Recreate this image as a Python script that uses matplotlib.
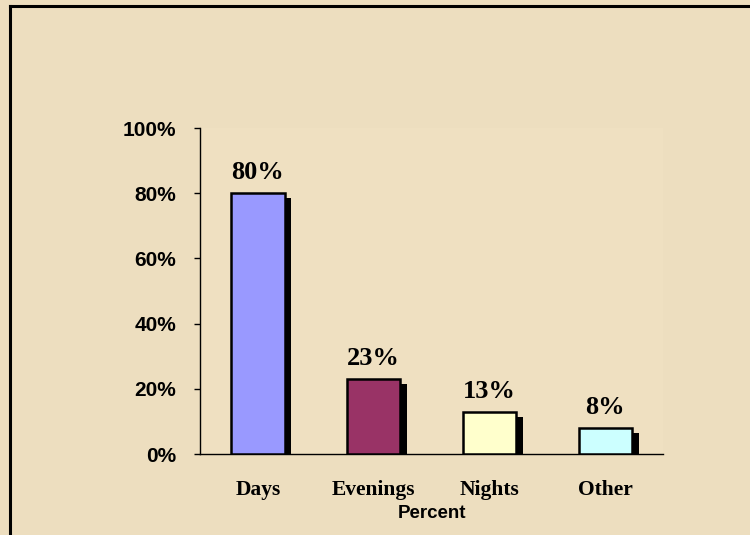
import numpy as np
import matplotlib
matplotlib.use("Agg")
import matplotlib.pyplot as plt
import matplotlib.patheffects as pe
from matplotlib.lines import Line2D

# data
categories = ["Days", "Evenings", "Nights", "Other"]
percent = [80, 23, 13, 8]
bar_colors = ["#9999FF", "#993366", "#FFFFCC", "#CCFFFF"]
yticks = [0, 20, 40, 60, 80, 100]

bg = "#EDDEBF"

fig = plt.figure(figsize=(7.5, 5.35), dpi=100, facecolor=bg)
ax = fig.add_axes([0.2667, 0.1514, 0.6173, 0.6093])
ax.set_facecolor("#EFE0C1")

x = np.arange(len(categories))
shadow = [pe.SimplePatchShadow(offset=(5, -3.6), shadow_rgbFace="black", alpha=1.0), pe.Normal()]
bars = ax.bar(x, percent, width=0.46, color=bar_colors, edgecolor="black",
              linewidth=1.8, zorder=3)
for b in bars:
    b.set_path_effects(shadow)

# value labels above bars
for xi, v in zip(x, percent):
    ax.annotate(f"{v}%", (xi, v), xytext=(0, 10), textcoords="offset points",
                ha="center", va="baseline", fontsize=19, fontweight="bold",
                family="Liberation Serif")

ax.set_xlim(-0.5, len(categories) - 0.5)
ax.set_ylim(0, 100)
ax.set_yticks(yticks)
ax.set_yticklabels([f"{t}%" for t in yticks], fontsize=15, fontweight="bold",
                   family="Liberation Sans")
ax.set_xticks(x)
ax.set_xticklabels(categories, fontsize=15.5, fontweight="bold", family="Liberation Serif")
ax.tick_params(axis="x", length=0, pad=18.5)
ax.tick_params(axis="y", length=4, width=1, direction="out", pad=13)
ax.set_xlabel("Percent", fontsize=13.5, fontweight="bold", family="Liberation Sans",
              labelpad=4)

for s in ["top", "right"]:
    ax.spines[s].set_visible(False)
for s in ["left", "bottom"]:
    ax.spines[s].set_linewidth(1)
    ax.spines[s].set_color("black")

# slide frame at top and left
fig.add_artist(Line2D([9.5 / 750, 9.5 / 750], [0, 1 - 5.5 / 535], color="black",
                      linewidth=2.2, transform=fig.transFigure))
fig.add_artist(Line2D([9.5 / 750, 1], [1 - 5.5 / 535, 1 - 5.5 / 535], color="black",
                      linewidth=2.2, transform=fig.transFigure))

fig.savefig("out.png", dpi=100, facecolor=bg)
